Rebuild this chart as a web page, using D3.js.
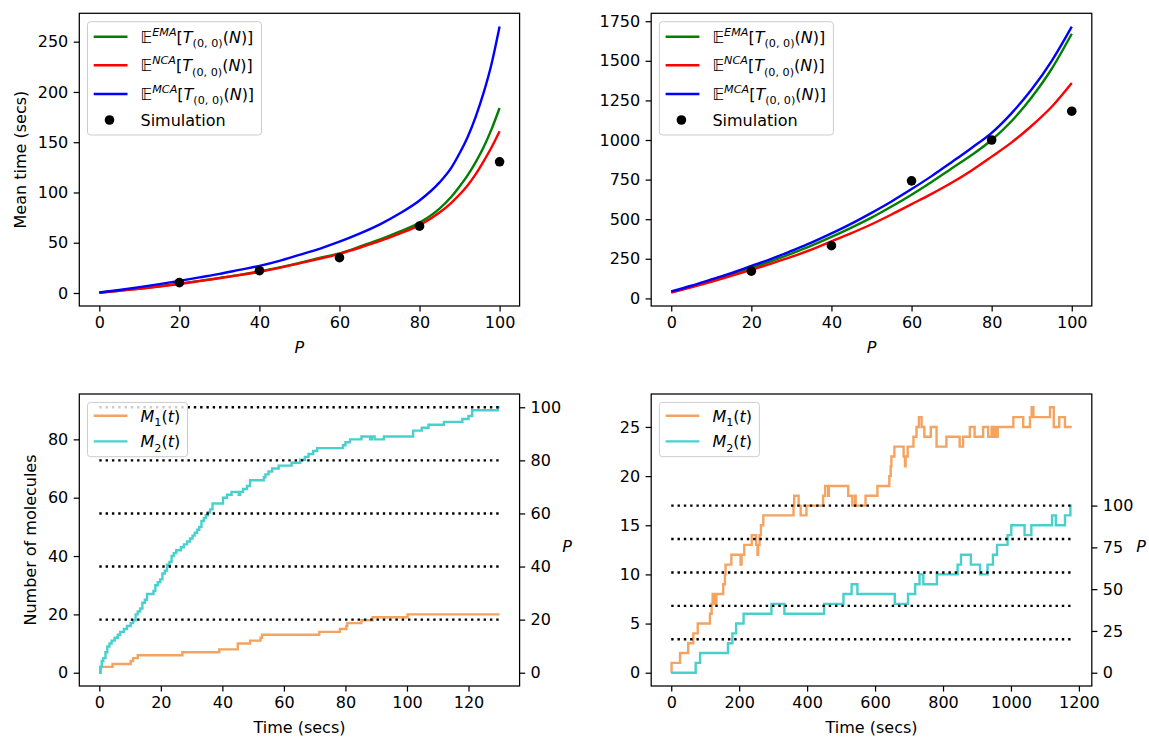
<!DOCTYPE html>
<html>
<head>
<meta charset="utf-8">
<script src="https://cdn.jsdelivr.net/npm/d3@7/dist/d3.min.js"></script>
<style>
  body { margin: 0; background: #fff; }
  svg { font-family: "DejaVu Sans", sans-serif; }
</style>
</head>
<body>
<svg id="fig" width="1149" height="738"></svg>
<script>
// ---- data ----
var pGridA = [0,5,10,15,20,25,30,35,40,45,50,55,60,65,70,75,80,85,88,90,92,94,96,98,100];
var emaA = [0.5,2.3,4.3,6.7,9.3,12,15,18,21.5,25.5,30,35,39.5,46,53,61,70,84,96,106,117,130,145,163,184];
var ncaA = [0.3,2.2,4.2,6.5,9,11.8,14.7,17.8,21,25,29.5,34,39,45,51.5,59,67.5,80,90,98,107,118,131,145,161];
var mcaA = [0.5,3,5.8,8.8,12,15.5,19,23,27,32,38,44,51,59,68,79,92,110,125,139,155,175,199,228,265];
var simA = [[20,10.3],[40,22.2],[60,35.1],[80,66.5],[100,130.5]];

var pGridB = [0,5,10,15,20,25,30,35,40,45,50,55,60,65,70,75,80,85,90,95,100];
var emaB = [40,75,112,150,192,236,283,333,388,447,510,580,655,735,820,905,1000,1120,1270,1450,1671];
var ncaB = [36,70,105,142,180,220,262,308,360,412,468,530,595,660,730,808,895,985,1090,1210,1360];
var mcaB = [44,80,120,160,205,250,300,352,410,472,540,612,690,772,860,950,1045,1170,1320,1500,1716];
var simB = [[20,172],[40,333],[60,742],[80,1000],[100,1182]];

// step traces: [time, count]
var m1C = [[0,0],[0.5,2],[4.3,3],[10.2,4],[11,5],[12.5,6],[27,7],[39,8],[45,10],[49,11],[52.4,12],[52.9,13],
  [71.5,14],[78.2,15],[80.3,16],[80.6,17],[85.2,18],[88.8,19],[100.2,20],[130.1,20]];
var m2C = [[0,0],[0.3,2],[0.8,4],[1.3,5],[2,7],[2.6,9],[3.3,10],[4,11],[5,12],[6,13],[6.8,14],[8,15],[9,16],
  [10.2,17],[11,18],[11.8,20],[12.5,21],[13.3,22],[14,24],[14.8,25],[15.5,27],[17.6,28],[18.2,30],[19,31],
  [19.8,32],[20.5,34],[21.3,35],[22,37],[22.8,38],[23.5,40],[24.2,41],[25,42],[26.5,43],[27.5,44],[28.5,45],
  [29.5,46],[30.3,47],[31,48],[31.8,49],[32.5,50],[33.2,52],[34,53],[34.6,54],[35.3,55],[36,56],[36.8,58],
  [40.2,60],[41.5,61],[43,62],[45.3,61],[45.8,62],[46.7,63],[48,64],[49,66],[53.5,67],[54,68],[55,69],
  [56.2,70],[58.3,71],[62.5,72],[65.3,73],[66.8,74],[68,75],[69.5,76],[70.8,77],[79.2,78],[80,79],[81.5,80],
  [85.2,81],[88,80],[88.6,81],[89.5,80],[92.5,81],[102,83],[104.8,84],[107,85],[112,86],[118,87],[120,88],
  [121.2,90],[129.5,91],[130.1,91]];
var pMaxC = 91;

var m1D = [[0,0],[1,1],[26,2],[50,3],[65,4],[78,5],[114,6],[119,7],[122,8],[125,7],[128,8],[131,7],[133,8],
  [153,9],[158,10],[160,11],[177,12],[204,11],[207,12],[215,13],[237,14],[250,13],[254,12],[256,13],[260,14],
  [264,15],[271,16],[360,17],[362,18],[375,17],[381,16],[398,17],[447,18],[453,19],[462,18],[464,19],[521,18],
  [533,17],[541,18],[543,17],[572,18],[607,19],[642,20],[646,21],[648,22],[657,23],[684,22],[688,21],[690,22],
  [696,23],[713,24],[722,25],[729,26],[737,25],[745,24],[764,25],[781,23],[810,24],[849,23],[859,24],[879,25],
  [893,24],[918,25],[933,24],[943,25],[946,24],[949,25],[952,24],[955,25],[958,24],[961,25],[1007,26],
  [1036,25],[1056,26],[1061,27],[1066,26],[1115,27],[1126,25],[1142,26],[1159,25],[1179,25]];
var m2D = [[0,0],[72,1],[85,2],[167,3],[180,4],[191,5],[213,6],[295,7],[333,6],[450,7],[507,8],[531,9],[548,8],
  [658,7],[697,8],[718,9],[731,10],[742,9],[782,10],[843,11],[853,12],[882,11],[909,10],[931,11],[947,12],
  [959,13],[990,14],[1001,15],[1040,14],[1060,15],[1121,16],[1132,15],[1159,16],[1175,17],[1179,17]];
var pMaxD = 17;

var pLevels = [20,40,60,80,100];

// ---- drawing ----
var FS = 16, LW = 2.4, TICK = 5.6;
var svg = d3.select("#fig");

function pad(ext) {
  var m = (ext[1] - ext[0]) * 0.05;
  return [ext[0] - m, ext[1] + m];
}

function styleAxis(g) {
  g.select(".domain").remove();
  g.selectAll(".tick line").attr("stroke", "#000").attr("stroke-width", 1.25);
  g.selectAll(".tick text").attr("fill", "#000").attr("font-size", FS).attr("font-family", "DejaVu Sans");
}

function makePanel(box, xDom, yDom, xTicks, yTicks) {
  var x = d3.scaleLinear().domain(xDom).range([box.x0, box.x1]);
  var y = d3.scaleLinear().domain(yDom).range([box.y1, box.y0]);
  var g = svg.append("g");
  g.append("g").attr("transform", "translate(0," + box.y1 + ")")
    .call(d3.axisBottom(x).tickValues(xTicks).tickSize(TICK).tickPadding(5.4).tickFormat(d3.format("d")))
    .call(styleAxis);
  g.append("g").attr("transform", "translate(" + box.x0 + ",0)")
    .call(d3.axisLeft(y).tickValues(yTicks).tickSize(TICK).tickPadding(5.4).tickFormat(d3.format("d")))
    .call(styleAxis);
  return { g: g, x: x, y: y, box: box };
}

function frame(p) {
  p.g.append("rect")
    .attr("x", p.box.x0).attr("y", p.box.y0)
    .attr("width", p.box.x1 - p.box.x0).attr("height", p.box.y1 - p.box.y0)
    .attr("fill", "none").attr("stroke", "#000").attr("stroke-width", 1.25);
}

function rich(text, parts) {
  var shift = 0;
  parts.forEach(function(pt) {
    var t = text.append("tspan").text(pt[0]);
    var target = pt[1] === "sup" ? -6.8 : pt[1] === "sub" ? 4.6 : 0;
    if (target !== shift) { t.attr("dy", target - shift); shift = target; }
    if (pt[1] !== "n") t.attr("font-size", FS * 0.7);
    if (pt[2]) t.attr("font-style", "italic");
  });
}

function eLabel(tag) {
  return [["\u{1D53C}", "n"], [tag, "sup", 1], ["[", "n"], ["T", "n", 1], ["(0, 0)", "sub"],
          ["(", "n"], ["N", "n", 1], [")]", "n"]];
}
function mLabel(k) {
  return [["M", "n", 1], [k, "sub"], ["(", "n"], ["t", "n", 1], [")", "n"]];
}

function legend(p, w, h, rows) {
  var x0 = p.box.x0 + 8.2, y0 = p.box.y0 + 8.4;
  var lg = p.g.append("g");
  lg.append("rect").attr("x", x0).attr("y", y0).attr("width", w).attr("height", h)
    .attr("rx", 3).attr("fill", "#fff").attr("fill-opacity", 0.8)
    .attr("stroke", "#cccccc").attr("stroke-width", 1);
  rows.forEach(function(r) {
    var cy = y0 + r.dy;
    if (r.kind === "dot") {
      lg.append("circle").attr("cx", x0 + 22).attr("cy", cy).attr("r", 4.8).attr("fill", "#000");
    } else {
      lg.append("line").attr("x1", x0 + 6.2).attr("x2", x0 + 40).attr("y1", cy).attr("y2", cy)
        .attr("stroke", r.color).attr("stroke-width", LW);
    }
    var t = lg.append("text").attr("x", x0 + 53).attr("y", cy + 5.8).attr("font-size", FS).attr("fill", "#000");
    if (typeof r.label === "string") t.text(r.label); else rich(t, r.label);
  });
}

function curve(p, xs, ys, color) {
  var line = d3.line().x(function(d, i) { return p.x(xs[i]); }).y(function(d) { return p.y(d); })
    .curve(d3.curveMonotoneX);
  p.g.append("path").attr("d", line(ys)).attr("fill", "none").attr("stroke", color).attr("stroke-width", LW);
}

function steps(p, data, color) {
  var line = d3.line().x(function(d) { return p.x(d[0]); }).y(function(d) { return p.y(d[1]); })
    .curve(d3.curveStepAfter);
  p.g.append("path").attr("d", line(data)).attr("fill", "none").attr("stroke", color)
    .attr("stroke-width", LW).attr("stroke-linejoin", "miter");
}

function dots(p, data) {
  p.g.selectAll(null).data(data).enter().append("circle")
    .attr("cx", function(d) { return p.x(d[0]); }).attr("cy", function(d) { return p.y(d[1]); })
    .attr("r", 4.8).attr("fill", "#000");
}

function topPanel(box, grid, ema, nca, mca, sim, yTicks) {
  var yAll = ema.concat(nca, mca, sim.map(function(d) { return d[1]; }));
  var p = makePanel(box, pad(d3.extent(grid)), pad(d3.extent(yAll)), [0,20,40,60,80,100], yTicks);
  curve(p, grid, ema, "#008000");
  curve(p, grid, nca, "#ff0000");
  curve(p, grid, mca, "#0000ff");
  dots(p, sim);
  frame(p);
  p.g.append("text").attr("x", (box.x0 + box.x1) / 2).attr("y", 352.8).attr("text-anchor", "middle")
    .attr("font-size", FS).attr("font-style", "italic").text("P");
  legend(p, 174, 113.3, [
    { dy: 15, color: "#008000", label: eLabel("EMA") },
    { dy: 43.6, color: "#ff0000", label: eLabel("NCA") },
    { dy: 72.3, color: "#0000ff", label: eLabel("MCA") },
    { dy: 98.3, kind: "dot", label: "Simulation" }
  ]);
  return p;
}

function bottomPanel(box, m1, m2, pMax, xTicks, yTicks, rTicks, pLabelX) {
  var tAll = m1.concat(m2).map(function(d) { return d[0]; });
  var vAll = m1.concat(m2).map(function(d) { return d[1]; });
  var xDom = pad(d3.extent(tAll)), yDom = pad(d3.extent(vAll));
  var p = makePanel(box, xDom, yDom, xTicks, yTicks);
  var yR = d3.scaleLinear().domain([yDom[0] * 100 / pMax, yDom[1] * 100 / pMax]).range([box.y1, box.y0]);
  p.g.append("g").attr("transform", "translate(" + box.x1 + ",0)")
    .call(d3.axisRight(yR).tickValues(rTicks).tickSize(TICK).tickPadding(5.4).tickFormat(d3.format("d")))
    .call(styleAxis);
  steps(p, m1, "#f4a460");
  steps(p, m2, "#48d1cc");
  var tMax = d3.max(tAll);
  p.g.selectAll(null).data(pLevels).enter().append("line")
    .attr("x1", p.x(0)).attr("x2", p.x(tMax))
    .attr("y1", function(d) { return yR(d); }).attr("y2", function(d) { return yR(d); })
    .attr("stroke", "#000").attr("stroke-width", LW).attr("stroke-dasharray", "2.4,3.9");
  frame(p);
  p.g.append("text").attr("x", (box.x0 + box.x1) / 2).attr("y", 732.8).attr("text-anchor", "middle")
    .attr("font-size", FS).text("Time (secs)");
  p.g.append("text").attr("x", pLabelX).attr("y", 552).attr("text-anchor", "middle")
    .attr("font-size", FS).attr("font-style", "italic").text("P");
  legend(p, 100, 54.3, [
    { dy: 13.3, color: "#f4a460", label: mLabel("1") },
    { dy: 39, color: "#48d1cc", label: mLabel("2") }
  ]);
  return p;
}

var boxTL = { x0: 79.3, x1: 519.6, y0: 13.3, y1: 306 };
var boxTR = { x0: 651.2, x1: 1091.8, y0: 13.3, y1: 306 };
var boxBL = { x0: 79.3, x1: 519.6, y0: 394, y1: 686 };
var boxBR = { x0: 651.2, x1: 1091.8, y0: 394, y1: 686 };

topPanel(boxTL, pGridA, emaA, ncaA, mcaA, simA, [0,50,100,150,200,250]);
topPanel(boxTR, pGridB, emaB, ncaB, mcaB, simB, [0,250,500,750,1000,1250,1500,1750]);
bottomPanel(boxBL, m1C, m2C, pMaxC, [0,20,40,60,80,100,120], [0,20,40,60,80], [0,20,40,60,80,100], 567);
bottomPanel(boxBR, m1D, m2D, pMaxD, [0,200,400,600,800,1000,1200], [0,5,10,15,20,25], [0,25,50,75,100], 1141);

svg.append("text").attr("transform", "translate(20,159.6) rotate(-90)").attr("text-anchor", "middle")
  .attr("dominant-baseline", "central").attr("font-size", FS).text("Mean time (secs)");
svg.append("text").attr("transform", "translate(30,540) rotate(-90)").attr("text-anchor", "middle")
  .attr("dominant-baseline", "central").attr("font-size", FS).text("Number of molecules");
</script>
</body>
</html>
